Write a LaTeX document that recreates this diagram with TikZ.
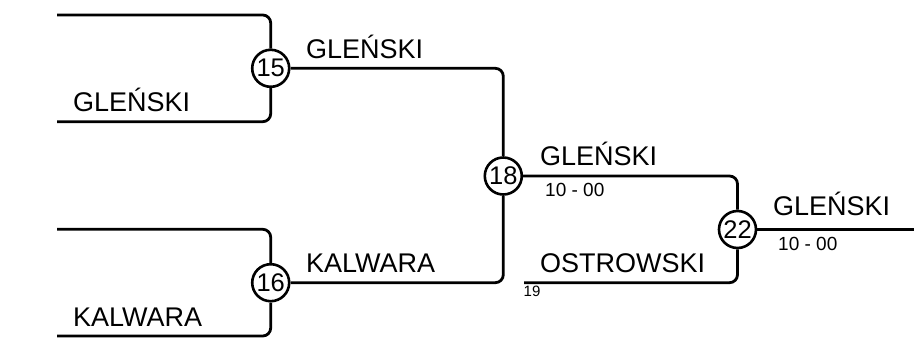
\documentclass[tikz,border=0pt]{standalone}
\usepackage{fontspec}
\setmainfont{Liberation Sans}
\begin{document}
\begin{tikzpicture}[x=1pt,y=-1pt,
  wire/.style={line width=2.8pt,rounded corners=8pt},
  circ/.style={circle,draw,line width=2.6pt,minimum size=37pt,inner sep=0pt,font=\fontsize{25.5}{25.5}\selectfont},
  lbl/.style={anchor=base west,inner sep=0pt,font=\fontsize{27}{29}\selectfont},
  score/.style={anchor=base west,inner sep=0pt,font=\fontsize{19}{20}\selectfont},
  tiny/.style={anchor=base west,inner sep=0pt,font=\fontsize{15}{16}\selectfont}]
\useasboundingbox (0,0) rectangle (914,338);
% match circles
\node[circ] (c15) at (270.7,68.3) {15};
\node[circ] (c16) at (270.7,282.7) {16};
\node[circ] (c18) at (503.3,176) {18};
\node[circ] (c22) at (737.5,229.5) {22};
% free ends
\coordinate (a1) at (57,15);
\coordinate (a2) at (57,121.7);
\coordinate (a3) at (57,229.3);
\coordinate (a4) at (57,336);
\coordinate (a19) at (524,282.7);
\coordinate (out) at (914,229.5);
% connectors
\draw[wire] (a1) -| (c15);
\draw[wire] (a2) -| (c15);
\draw[wire] (a3) -| (c16);
\draw[wire] (a4) -| (c16);
\draw[wire] (c15) -| (c18);
\draw[wire] (c16) -| (c18);
\draw[wire] (c18) -| (c22);
\draw[wire] (a19) -| (c22);
\draw[wire] (c22) -- (out);
% labels
\node[lbl] (l1) at (73,111) {GLEŃSKI};
\node[lbl] (l2) at (73,326) {KALWARA};
\node[lbl] (l3) at (306,58) {GLEŃSKI};
\node[lbl] (l4) at (306,272.5) {KALWARA};
\node[lbl] (l5) at (540,165) {GLEŃSKI};
\node[score] (s5) at (545,196) {10 - 00};
\node[lbl] (l6) at (540,272.7) {OSTROWSKI};
\node[tiny] (t19) at (523.5,296.7) {19};
\node[lbl] (l7) at (773,215) {GLEŃSKI};
\node[score] (s7) at (778,250) {10 - 00};
\end{tikzpicture}
\end{document}
